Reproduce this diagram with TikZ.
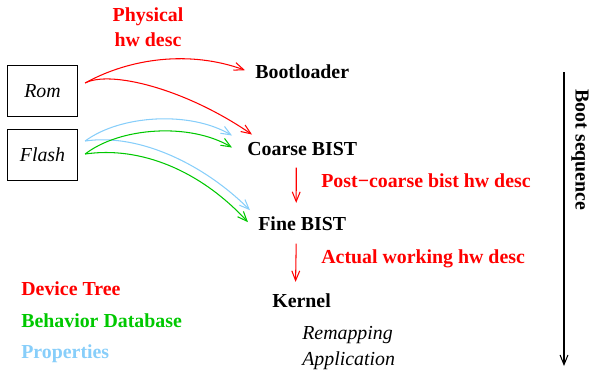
\documentclass[tikz,border=0pt]{standalone}
\usepackage{fontspec}
\setmainfont{Liberation Serif}
\usetikzlibrary{arrows.meta}
\definecolor{hwred}{RGB}{255,0,0}
\definecolor{behgreen}{RGB}{0,200,0}
\definecolor{propblue}{RGB}{135,206,250}
\tikzset{
  stage/.style={font=\bfseries, inner sep=0pt, anchor=base west},
  memory/.style={draw, font=\itshape, line width=0.6pt,
    minimum width=40pt, minimum height=29.3pt},
  desc/.style={font=\bfseries, text=hwred, inner sep=0pt},
  flow/.style={line width=0.6pt, -{Straight Barb[length=5.5pt,width=4.5pt]}},
}
\begin{document}
\fontsize{11.3}{14}\selectfont
\begin{tikzpicture}[x=0.02cm, y=-0.02cm]
  \useasboundingbox (0,0) rectangle (590,372);
  % memories
  \node[memory] (rom) at (42.5,91) {Rom};
  \node[memory] (flash) at (42.5,155) {Flash};
  % boot stages
  \node[stage] (boot) at (255,78) {Bootloader};
  \node[stage] (coarse) at (247,155) {Coarse BIST};
  \node[stage] (fine) at (258,230) {Fine BIST};
  \node[stage] (kernel) at (272,307) {Kernel};
  \node[stage, font=\itshape] (remap) at (302,339) {Remapping};
  \node[stage, font=\itshape] (app) at (302,365) {Application};
  % descriptions
  \node[desc, align=center] (physdesc) at (148,27) {Physical\\hw desc};
  \node[desc, anchor=base west] (postdesc) at (321,187) {Post−coarse bist hw desc};
  \node[desc, anchor=base west] (actualdesc) at (321,263) {Actual working hw desc};
  % legend
  \node[desc, anchor=base west] (devtree) at (21,295) {Device Tree};
  \node[desc, anchor=base west, text=behgreen] (behdb) at (21,327) {Behavior Database};
  \node[desc, anchor=base west, text=propblue] (props) at (21,358) {Properties};
  % boot sequence
  \coordinate (seqtop) at (564,72);
  \coordinate (seqend) at (564,366);
  \node[font=\bfseries, rotate=-90] (seqlabel) at (580,150) {Boot sequence};
  \draw[flow] (seqtop) -- (seqend);
  % hw descriptions handed on
  \begin{scope}[flow, hwred]
    \draw ([shift={(7,-8)}]rom.east) .. controls +(45,-25) and +(-55,-20) .. ([shift={(-10,-1)}]boot.west);
    \draw ([shift={(7,-8)}]rom.east) .. controls +(25,-13) and +(-67,-46) .. ([shift={(5,-14)}]coarse.west);
    \draw ([shift={(-6,12)}]coarse.south) -- ([shift={(-6,-13)}]fine.north);
    \draw ([shift={(-6,13)}]fine.south) -- ([shift={(-6,-11)}]kernel.north);
  \end{scope}
  \begin{scope}[flow, propblue]
    \draw ([shift={(7,-14)}]flash.east) .. controls +(35,-26) and +(-42,-25) .. ([shift={(-15,-13)}]coarse.west);
    \draw ([shift={(7,-14)}]flash.east) .. controls +(55,-8) and +(-45,-45) .. ([shift={(-8,-13)}]fine.west);
  \end{scope}
  \begin{scope}[flow, behgreen]
    \draw ([shift={(7,-1)}]flash.east) .. controls +(35,-27) and +(-42,-25) .. ([shift={(-15,-1)}]coarse.west);
    \draw ([shift={(7,-1)}]flash.east) .. controls +(55,-8) and +(-48,-52) .. ([shift={(-10,-1)}]fine.west);
  \end{scope}
\end{tikzpicture}
\end{document}
